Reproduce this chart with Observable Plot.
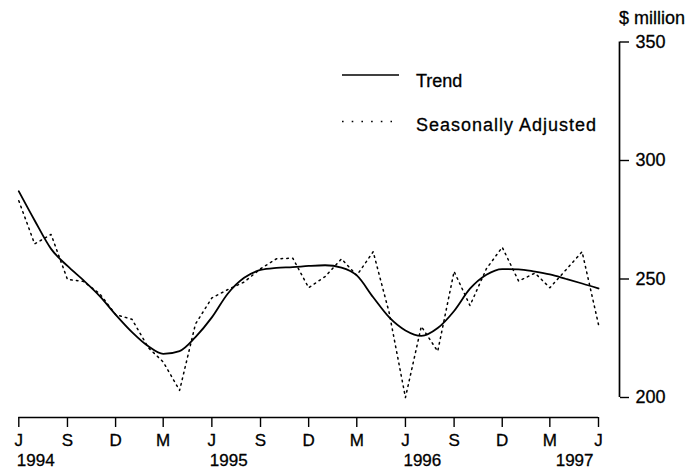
<!DOCTYPE html>
<html>
<head>
<meta charset="utf-8">
<script src="https://cdn.jsdelivr.net/npm/d3@7"></script>
<script src="https://cdn.jsdelivr.net/npm/@observablehq/plot@0.6"></script>
<style>
  html, body { margin: 0; padding: 0; background: #fff; }
  #wrap { position: relative; width: 693px; height: 470px; overflow: hidden; }
  #legend { position: absolute; left: 0; top: 0; }
  text { font-family: "Liberation Sans", Arial, Helvetica, sans-serif; }
  #wrap svg text { stroke: black; stroke-width: 0.3px; }
</style>
</head>
<body>
<div id="wrap"></div>
<script>
// ---- data ----
const months = [
  "1994-06","1994-07","1994-08","1994-09","1994-10","1994-11","1994-12",
  "1995-01","1995-02","1995-03","1995-04","1995-05","1995-06","1995-07","1995-08","1995-09","1995-10","1995-11","1995-12",
  "1996-01","1996-02","1996-03","1996-04","1996-05","1996-06","1996-07","1996-08","1996-09","1996-10","1996-11","1996-12",
  "1997-01","1997-02","1997-03","1997-04","1997-05","1997-06"
];
const trend = [
  287.0, 274.7, 262.7, 255.5, 249.5, 242.8, 235.0,
  227.6, 221.6, 218.4, 219.6, 225.5, 233.8, 243.8, 250.5, 253.8, 254.7, 255.0, 255.5,
  255.8, 254.8, 251.5, 242.3, 233.9, 228.3, 226.0, 229.3, 236.5, 245.9, 251.8, 254.2,
  254.1, 253.1, 251.9, 250.0, 248.1, 246.0
];
const seasonallyAdjusted = [
  283.0, 264.8, 268.8, 249.8, 249.0, 243.8, 235.0,
  233.0, 221.0, 215.0, 203.0, 231.0, 242.0, 245.5, 248.7, 254.3, 258.5, 258.8, 246.3,
  251.0, 258.5, 251.5, 261.5, 236.0, 200.0, 230.0, 219.5, 253.2, 238.8, 254.3, 263.4,
  249.1, 252.5, 246.3, 254.0, 261.5, 230.8
];
const tickMonths = ["1994-06","1994-09","1994-12","1995-03","1995-06","1995-09","1995-12","1996-03","1996-06","1996-09","1996-12","1997-03","1997-06"];
const tickLabels = ["J","S","D","M","J","S","D","M","J","S","D","M","J"];
const yearMonths = ["1994-06","1995-06","1996-06","1997-06"];
const yearLabels = ["1994","1995","1996","1997"];
const yTicks = [200, 250, 300, 350];
const yLabel = "$ million";
const legendLabels = ["Trend", "Seasonally Adjusted"];

// ---- build ----
const parse = s => new Date(s + "-01T00:00:00Z");
const data = months.map((m, i) => ({date: parse(m), trend: trend[i], sa: seasonallyAdjusted[i]}));
const ticks = tickMonths.map(parse);
const tickLabelMap = new Map(ticks.map((d, i) => [+d, tickLabels[i]]));
const years = yearMonths.map((m, i) => ({date: parse(m), label: yearLabels[i]}));
const xStart = parse(months[0]);
const xEnd = parse(months[months.length - 1]);
const font = '"Liberation Sans", Arial, Helvetica, sans-serif';

const chart = Plot.plot({
  width: 693,
  height: 470,
  marginLeft: 18.3,
  marginRight: 95,
  marginTop: 41.5,
  marginBottom: 73,
  x: {type: "utc", domain: [xStart, xEnd], axis: null},
  y: {domain: [200, 350], axis: null},
  style: {fontFamily: font, fontSize: "18px", background: "white", overflow: "visible", color: "black"},
  marks: [
    // x axis (offset below the plot area)
    Plot.ruleY([{y: 200, x1: xStart, x2: xEnd}], {y: "y", x1: "x1", x2: "x2", dy: 20, stroke: "black", strokeWidth: 1.4}),
    Plot.axisX(ticks, {anchor: "bottom", tickSize: 10, tickPadding: 6, dy: 20, strokeWidth: 1.4,
      tickFormat: d => tickLabelMap.get(+d), fontSize: 17, fill: "black"}),
    Plot.text(years.slice(0, 3), {x: "date", text: "label", frameAnchor: "bottom", dy: 63, dx: -2,
      textAnchor: "start", lineAnchor: "middle", fontSize: 17, fill: "black"}),
    Plot.text(years.slice(3), {x: "date", text: "label", frameAnchor: "bottom", dy: 63, dx: -5,
      textAnchor: "end", lineAnchor: "middle", fontSize: 17, fill: "black"}),
    // y axis on the right, offset from the plot area
    Plot.ruleX([xEnd], {y1: 200, y2: 350, dx: 21, stroke: "black", strokeWidth: 1.7}),
    Plot.axisY(yTicks, {anchor: "right", tickSize: 9, tickPadding: 7, dx: 21, strokeWidth: 1.4,
      textAnchor: "start", fontSize: 18, fill: "black"}),
    // series
    Plot.line(data, {x: "date", y: "sa", stroke: "black", strokeWidth: 1.5, strokeDasharray: "1.6,4.2", curve: "linear"}),
    Plot.line(data, {x: "date", y: "trend", stroke: "black", strokeWidth: 1.8, curve: "monotone-x"})
  ]
});

const wrap = document.getElementById("wrap");
wrap.appendChild(chart);

// legend + unit label overlay
const ov = d3.create("svg").attr("id", "legend").attr("width", 693).attr("height", 470);
ov.append("line").attr("x1", 342).attr("x2", 399).attr("y1", 75).attr("y2", 75)
  .attr("stroke", "black").attr("stroke-width", 1.7);
ov.append("text").attr("x", 416).attr("y", 86.5).attr("font-size", 18).text(legendLabels[0]);
ov.append("line").attr("x1", 342).attr("x2", 392).attr("y1", 121.5).attr("y2", 121.5)
  .attr("stroke", "black").attr("stroke-width", 1.5).attr("stroke-dasharray", "1.6,8.1");
ov.append("text").attr("x", 416).attr("y", 131).attr("font-size", 18).attr("letter-spacing", "1").text(legendLabels[1]);
ov.append("text").attr("x", 619).attr("y", 23.5).attr("font-size", 18).text(yLabel);
wrap.appendChild(ov.node());
</script>
</body>
</html>
